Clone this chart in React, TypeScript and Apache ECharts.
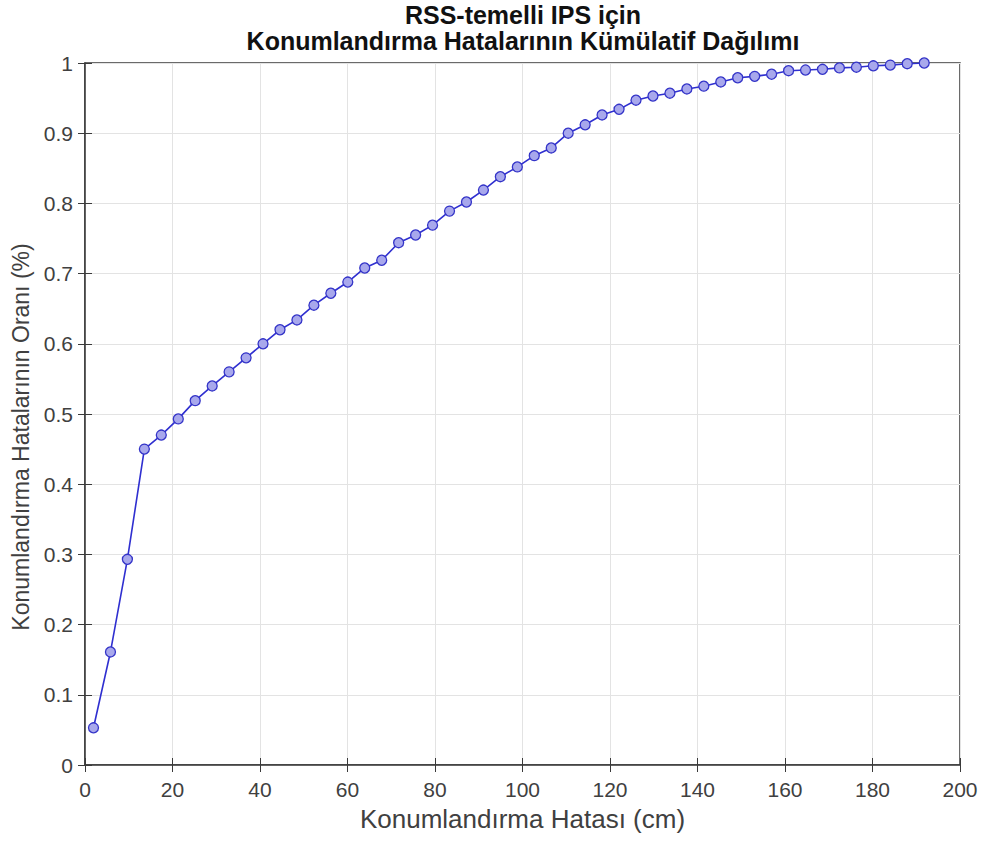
import React, { useEffect, useRef } from "react";
import * as echarts from "echarts";

const errorCm = [
  1.94, 5.82, 9.69, 13.57, 17.44, 21.32, 25.19, 29.07, 32.94, 36.82,
  40.69, 44.57, 48.44, 52.32, 56.19, 60.07, 63.94, 67.82, 71.69, 75.57,
  79.44, 83.32, 87.19, 91.07, 94.94, 98.82, 102.69, 106.57, 110.44, 114.32,
  118.19, 122.07, 125.94, 129.82, 133.69, 137.57, 141.44, 145.32, 149.19, 153.07,
  156.94, 160.82, 164.69, 168.57, 172.44, 176.32, 180.19, 184.07, 187.94, 191.82,
];
const cdf = [
  0.053, 0.161, 0.293, 0.45, 0.47, 0.493, 0.519, 0.54, 0.56, 0.58,
  0.6, 0.62, 0.634, 0.655, 0.672, 0.688, 0.708, 0.719, 0.744, 0.755,
  0.769, 0.789, 0.802, 0.819, 0.838, 0.852, 0.868, 0.879, 0.9, 0.912,
  0.926, 0.934, 0.947, 0.953, 0.957, 0.963, 0.967, 0.973, 0.979, 0.981,
  0.984, 0.989, 0.99, 0.991, 0.993, 0.994, 0.996, 0.997, 0.999, 1.0,
];
const titleLine1 = "RSS-temelli IPS için";
const titleLine2 = "Konumlandırma Hatalarının Kümülatif Dağılımı";
const xTitle = "Konumlandırma Hatası (cm)";
const yTitle = "Konumlandırma Hatalarının Oranı (%)";

const FONT = "'Liberation Sans', Arial, Helvetica, sans-serif";
const AX = "#3a3a3a";
const TXT = "#404040";

export default function App() {
  const ref = useRef<HTMLDivElement>(null);
  useEffect(() => {
    if (!ref.current) return;
    const chart = echarts.init(ref.current, undefined, { renderer: "svg" });
    const data = errorCm.map((x, i) => [x, cdf[i]]);
    const hidden = {
      axisLabel: { show: false },
      splitLine: { show: false },
      axisLine: { show: false },
      axisTick: { show: true, inside: true, length: 7, lineStyle: { color: AX } },
    };
    const titleStyle = {
      fontFamily: FONT,
      fontWeight: "bold",
      fontSize: 25,
      color: "#111",
      lineHeight: 25,
    };
    chart.setOption({
      animation: false,
      backgroundColor: "#ffffff",
      title: [
        { text: titleLine1, left: 523, textAlign: "center", top: 2, padding: 0, textStyle: titleStyle },
        { text: titleLine2, left: 523, textAlign: "center", top: 28, padding: 0, textStyle: titleStyle },
      ],
      grid: {
        left: 85,
        right: 27,
        top: 63,
        bottom: 78,
        show: true,
        borderColor: AX,
        borderWidth: 1.5,
        backgroundColor: "#ffffff",
      },
      xAxis: [
        {
          type: "value",
          min: 0,
          max: 200,
          interval: 20,
          name: xTitle,
          nameLocation: "middle",
          nameGap: 41,
          nameTextStyle: { fontFamily: FONT, fontSize: 26, color: TXT },
          axisLine: { show: true, lineStyle: { color: AX, width: 1.5 } },
          axisTick: { show: true, inside: true, length: 7, lineStyle: { color: AX } },
          axisLabel: { fontFamily: FONT, fontSize: 21, color: TXT, margin: 14 },
          splitLine: { show: true, lineStyle: { color: "#e3e3e3", width: 1 } },
        },
        { type: "value", min: 0, max: 200, interval: 20, position: "top", ...hidden },
      ],
      yAxis: [
        {
          type: "value",
          min: 0,
          max: 1,
          interval: 0.1,
          name: yTitle,
          nameLocation: "middle",
          nameGap: 53,
          nameTextStyle: {
            fontFamily: FONT,
            fontSize: 23,
            color: TXT,
            padding: [0, 46, 0, 0],
          },
          axisLine: { show: true, lineStyle: { color: AX, width: 1.5 } },
          axisTick: { show: true, inside: true, length: 7, lineStyle: { color: AX } },
          axisLabel: {
            fontFamily: FONT,
            fontSize: 21,
            color: TXT,
            margin: 12,
            formatter: (v: number) => (v === 0 || v === 1 ? String(v) : v.toFixed(1)),
          },
          splitLine: { show: true, lineStyle: { color: "#e3e3e3", width: 1 } },
        },
        { type: "value", min: 0, max: 1, interval: 0.1, position: "right", ...hidden },
      ],
      series: [
        {
          type: "line",
          data,
          symbol: "circle",
          symbolSize: 10,
          showAllSymbol: true,
          lineStyle: { color: "#2f2fd0", width: 1.6 },
          itemStyle: { color: "#a8a8ec", borderColor: "#3434c8", borderWidth: 1.3 },
          z: 5,
        },
      ],
    });
    return () => chart.dispose();
  }, []);
  return (
    <div
      ref={ref}
      style={{ position: "fixed", left: 0, top: 0, width: 987, height: 843 }}
    />
  );
}
